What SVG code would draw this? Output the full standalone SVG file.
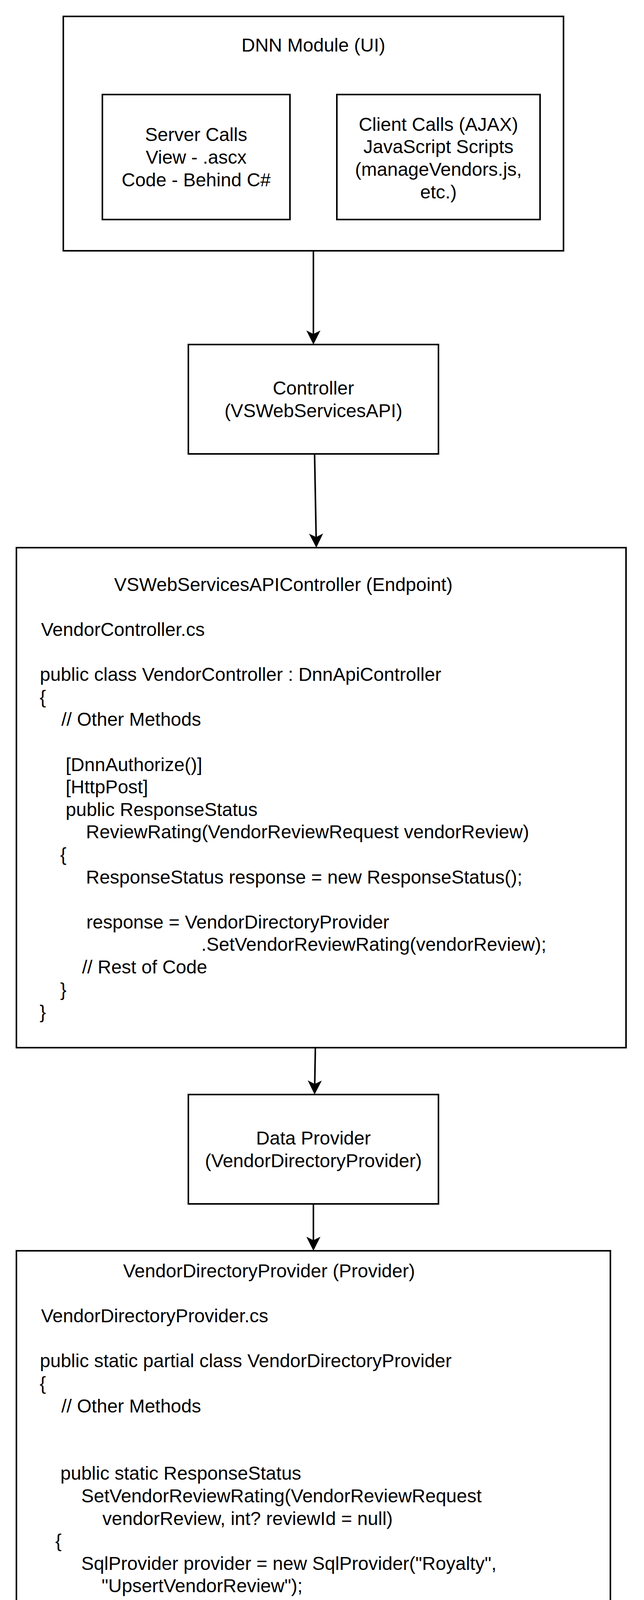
<svg xmlns="http://www.w3.org/2000/svg" width="1648" height="4884" viewBox="0 0 1648 4884">
  <style>
    .box { fill: #ffffff; stroke: #000000; stroke-width: 4; }
    .t { font-family: "Liberation Sans", Arial, Helvetica, sans-serif; font-size: 48px; fill: #000000; }
    .c { text-anchor: middle; }
    .edge { fill: none; stroke: #000000; stroke-width: 4; }
  </style>
  <defs>
    <marker id="arrow" markerUnits="userSpaceOnUse" viewBox="-10 -20 40 40" markerWidth="40" markerHeight="40" refX="0" refY="0" orient="auto" overflow="visible">
      <path d="M27,0 L-9,-18 L0,0 L-9,18 Z" fill="#000000" stroke="none"/>
    </marker>
  </defs>
  <rect x="0" y="0" width="1648" height="4884" fill="#ffffff"/>

  <g id="dnn-module">
    <rect class="box" x="162" y="42" width="1280" height="600"/>
    <text class="t c" x="802" y="132">DNN Module (UI)</text>
  </g>

  <g id="server-calls">
    <rect class="box" x="262" y="242" width="480" height="320"/>
    <text class="t c" x="502" y="361">Server Calls</text>
    <text class="t c" x="502" y="419">View - .ascx</text>
    <text class="t c" x="502" y="477">Code - Behind C#</text>
  </g>

  <g id="client-calls">
    <rect class="box" x="862" y="242" width="520" height="320"/>
    <text class="t c" x="1122" y="334.5">Client Calls (AJAX)</text>
    <text class="t c" x="1122" y="392">JavaScript Scripts</text>
    <text class="t c" x="1122" y="450">(manageVendors.js,</text>
    <text class="t c" x="1122" y="507.5">etc.)</text>
  </g>

  <g id="controller">
    <rect class="box" x="482" y="882" width="640" height="280"/>
    <text class="t c" x="802" y="1010">Controller</text>
    <text class="t c" x="802" y="1068">(VSWebServicesAPI)</text>
  </g>

  <g id="endpoint">
    <rect class="box" x="42" y="1402" width="1560" height="1280"/>
    <text class="t" x="292" y="1512.7">VSWebServicesAPIController (Endpoint)</text>
    <text class="t" x="105" y="1627.9">VendorController.cs</text>
    <text class="t" x="102" y="1743.1">public class VendorController : DnnApiController</text>
    <text class="t" x="101.5" y="1800.7">{</text>
    <text class="t" x="157" y="1858.3">// Other Methods</text>
    <text class="t" x="168" y="1973.5">[DnnAuthorize()]</text>
    <text class="t" x="168" y="2031.1">[HttpPost]</text>
    <text class="t" x="168" y="2088.7">public ResponseStatus</text>
    <text class="t" x="220" y="2146.3">ReviewRating(VendorReviewRequest vendorReview)</text>
    <text class="t" x="154" y="2203.9">{</text>
    <text class="t" x="220" y="2261.5">ResponseStatus response = new ResponseStatus();</text>
    <text class="t" x="221" y="2376.7">response = VendorDirectoryProvider</text>
    <text class="t" x="515" y="2434.3">.SetVendorReviewRating(vendorReview);</text>
    <text class="t" x="210" y="2491.9">// Rest of Code</text>
    <text class="t" x="154" y="2549.5">}</text>
    <text class="t" x="101.5" y="2607.1">}</text>
  </g>

  <g id="data-provider">
    <rect class="box" x="482" y="2802" width="640" height="280"/>
    <text class="t c" x="802" y="2930">Data Provider</text>
    <text class="t c" x="802" y="2988">(VendorDirectoryProvider)</text>
  </g>

  <g id="provider">
    <rect class="box" x="42" y="3202" width="1520" height="1080"/>
    <text class="t" x="315" y="3270">VendorDirectoryProvider (Provider)</text>
    <text class="t" x="105" y="3385.2">VendorDirectoryProvider.cs</text>
    <text class="t" x="102" y="3500.4">public static partial class VendorDirectoryProvider</text>
    <text class="t" x="101.5" y="3558">{</text>
    <text class="t" x="157" y="3615.6">// Other Methods</text>
    <text class="t" x="154.5" y="3788.4">public static ResponseStatus</text>
    <text class="t" x="208" y="3846">SetVendorReviewRating(VendorReviewRequest</text>
    <text class="t" x="262" y="3903.6">vendorReview, int? reviewId = null)</text>
    <text class="t" x="141.5" y="3961.2">{</text>
    <text class="t" x="208" y="4018.8">SqlProvider provider = new SqlProvider("Royalty",</text>
    <text class="t" x="260" y="4076.4">"UpsertVendorReview");</text>
    <text class="t" x="210" y="4134">// Rest Of Code</text>
    <text class="t" x="154" y="4191.6">}</text>
    <text class="t" x="101.5" y="4249.2">}</text>
  </g>

  <g id="royalty-db">
    <path class="box" d="M602,4462 A200,60 0 0 1 1002,4462 L1002,4782 A200,60 0 0 1 602,4782 Z"/>
    <path class="edge" d="M602,4462 A200,60 0 0 0 1002,4462"/>
    <text class="t c" x="802" y="4661">Royalty</text>
    <text class="t c" x="802" y="4719">Store Procedure</text>
  </g>

  <g id="connectors">
    <path class="edge" d="M802,642 L802,855" marker-end="url(#arrow)"/>
    <path class="edge" d="M805,1162 L809,1375" marker-end="url(#arrow)"/>
    <path class="edge" d="M807,2682 L805.4,2775" marker-end="url(#arrow)"/>
    <path class="edge" d="M802,3082 L802,3175" marker-end="url(#arrow)"/>
    <path class="edge" d="M802,4282 L802,4375" marker-end="url(#arrow)"/>
  </g>
</svg>
